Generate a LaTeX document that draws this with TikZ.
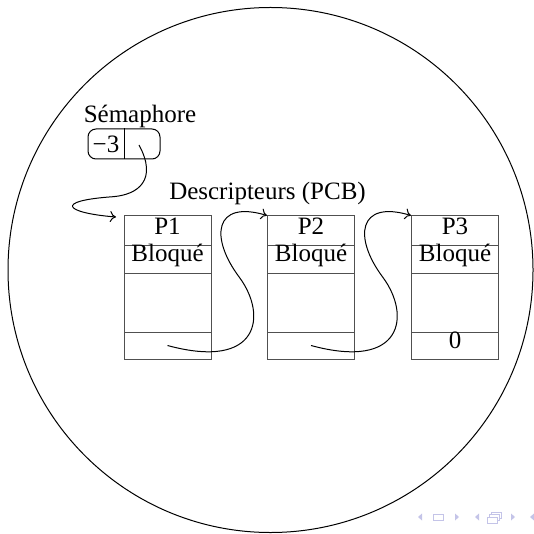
\documentclass[tikz,border=0pt]{standalone}
\usepackage{fontspec}
\setmainfont{Liberation Serif}
\usetikzlibrary{arrows.meta,calc}

\definecolor{navc}{RGB}{196,196,232}
\definecolor{cellline}{RGB}{80,80,80}

\tikzset{
  txt/.style={font=\fontsize{25}{30}\selectfont, inner sep=0pt},
  cell/.style={txt, draw=cellline, line width=1pt, minimum width=87pt,
               text height=1.5ex, text depth=.25ex},
  headrow/.style={cell, minimum height=29pt, text height=2ex},
  staterow/.style={cell, minimum height=28pt},
  bodyrow/.style={cell, minimum height=59pt},
  linkrow/.style={cell, minimum height=27pt},
  semabox/.style={draw, line width=1pt, rounded corners=8pt,
                  minimum width=72pt, minimum height=30pt, inner sep=0pt},
  link/.style={line width=1pt, -{To[length=6pt,width=11pt]}},
  navsym/.style={fill=navc, draw=none},
  navframe/.style={draw=navc, line width=1pt, fill=white},
}

\begin{document}
\begin{tikzpicture}[x=1pt, y=-1pt]
  \useasboundingbox (0,0) rectangle (534,534);

  % enclosing region
  \draw[line width=1pt] (270.5,270) circle [radius=262.5];

  % semaphore: counter and queue pointer
  \node[txt, anchor=base] (semlabel) at (140,123) {Sémaphore};
  \node[semabox] (sem) at (124,144) {};
  \draw[line width=1pt] (sem.north) -- (sem.south);
  \node[txt] (semval) at (106,144) {−3};
  \coordinate (semptr) at (139,145);
  \coordinate (semend) at (116,217);

  \node[txt, anchor=base] (pcblabel) at (267.5,200) {Descripteurs (PCB)};

  % process control blocks
  \foreach \i/\x in {1/167.5, 2/311, 3/455} {
    \node[headrow]  (p\i a) at (\x,230.5) {P\i};
    \node[staterow] (p\i b) at (\x,259)   {Bloqué};
    \node[bodyrow]  (p\i c) at (\x,302.5) {};
  }
  \node[linkrow] (p1d) at (167.5,345.5) {};
  \node[linkrow] (p2d) at (311,345.5)   {};
  \node[linkrow] (p3d) at (455,345.5)   {0};

  % queue links
  \draw[link] (semptr)
    .. controls (158,180) and (138,194.7) .. (113,196.7)
    .. controls (52,201) and (66,213) .. (semend);
  \draw[link] (p1d.center)
    .. controls +(92,25) and +(28,38) .. ($(p1d.center)+(72,-68)$)
    .. controls +(-30,-40) and +(-53,-16) .. (p2a.north west);
  \draw[link] (p2d.center)
    .. controls +(92,25) and +(28,38) .. ($(p2d.center)+(72,-68)$)
    .. controls +(-30,-40) and +(-53,-16) .. (p3a.north west);

  % navigation symbols
  \fill[navsym] (418,517) -- (422,513.5) -- (422,520.5) -- cycle;
  \draw[navframe] (433,514) rectangle (443,520.5);
  \fill[navsym] (459,517) -- (455,513.5) -- (455,520.5) -- cycle;
  \fill[navsym] (475,517) -- (479,513.5) -- (479,520.5) -- cycle;
  \draw[navframe] (491,512) rectangle (501,518);
  \draw[navframe] (489,514.5) rectangle (499,520.5);
  \draw[navframe] (487,517) rectangle (497,523);
  \fill[navsym] (515,517) -- (511,513.5) -- (511,520.5) -- cycle;
  \fill[navsym] (530,517) -- (534,513.5) -- (534,520.5) -- cycle;
\end{tikzpicture}
\end{document}
